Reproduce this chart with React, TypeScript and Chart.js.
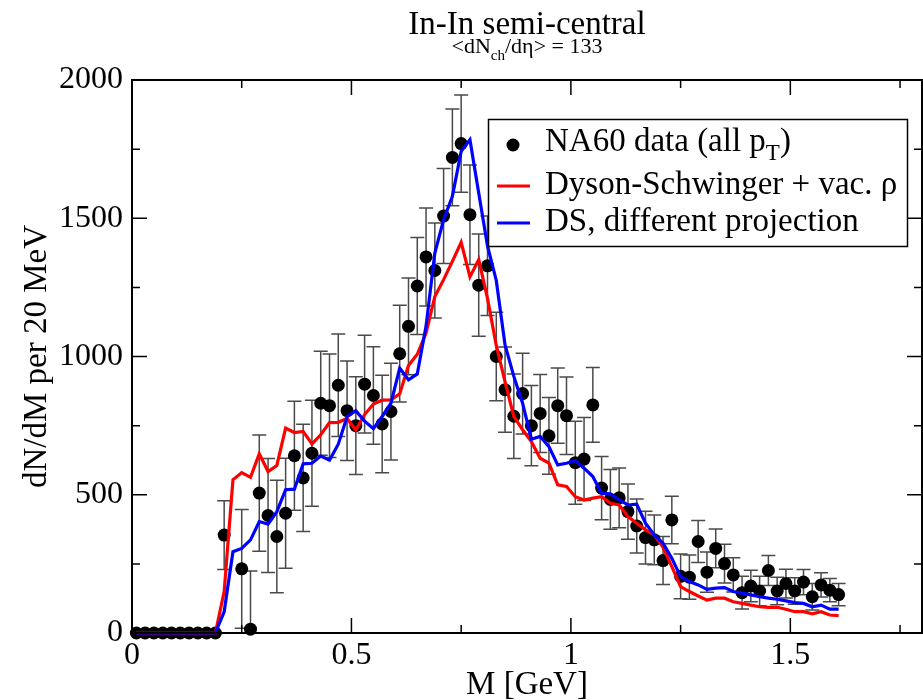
import React, { useEffect, useRef } from "react";
import { Chart, registerables } from "chart.js";

Chart.register(...registerables);

// ---- data ----
const massGeV = [
  0.01, 0.03, 0.05, 0.07, 0.09, 0.11, 0.13, 0.15, 0.17, 0.19,
  0.21, 0.23, 0.25, 0.27, 0.29, 0.31, 0.33, 0.35, 0.37, 0.39,
  0.41, 0.43, 0.45, 0.47, 0.49, 0.51, 0.53, 0.55, 0.57, 0.59,
  0.61, 0.63, 0.65, 0.67, 0.69, 0.71, 0.73, 0.75, 0.77, 0.79,
  0.81, 0.83, 0.85, 0.87, 0.89, 0.91, 0.93, 0.95, 0.97, 0.99,
  1.01, 1.03, 1.05, 1.07, 1.09, 1.11, 1.13, 1.15, 1.17, 1.19,
  1.21, 1.23, 1.25, 1.27, 1.29, 1.31, 1.33, 1.35, 1.37, 1.39,
  1.41, 1.43, 1.45, 1.47, 1.49, 1.51, 1.53, 1.55, 1.57, 1.59,
  1.61,
];

const na60Yield: (number | null)[] = [
  0, 0, 0, 0, 0, 0, 0, 0, 0, 0,
  354, null, 232, 14, 506, 425, 349, 433, 641, 561,
  650, 831, 822, 896, 804, 750, 900, 859, 756, 801,
  1010, 1109, 1255, 1360, 1311, 1508, 1720, 1770, 1513, 1258,
  1328, 1000, 880, 784, 866, 750, 794, 713, 822, 786,
  616, 629, 825, 524, 483, 489, 439, 387, 345, 337,
  262, 409, 205, 202, 331, 220, 306, 251, 210, 146,
  170, 152, 226, 152, 179, 152, 184, 131, 174, 155,
  139,
];

const na60Error = [
  0, 0, 0, 0, 0, 0, 0, 0, 0, 0,
  124, 0, 215, 210, 210, 206, 203, 199, 197, 194,
  192, 188, 187, 185, 180, 177, 177, 176, 176, 175,
  175, 175, 175, 177, 172, 172, 175, 176, 180, 185,
  180, 160, 154, 153, 146, 145, 141, 139, 136, 140,
  150, 150, 135, 114, 108, 108, 100, 98, 95, 90,
  87, 86, 81, 80, 76, 73, 70, 70, 62, 59,
  57, 53, 54, 50, 52, 48, 46, 48, 44, 42,
  40,
];

const dsVacRho = [
  0, 0, 0, 0, 0, 0, 0, 0, 0, 0,
  150, 554, 580, 563, 648, 584, 606, 741, 725, 729,
  684, 717, 761, 762, 776, 734, 790, 828, 842, 843,
  865, 967, 1008, 1085, 1217, 1278, 1344, 1413, 1288, 1350,
  1210, 1040, 908, 783, 735, 692, 632, 614, 536, 530,
  493, 481, 488, 493, 469, 463, 421, 397, 373, 355,
  310, 240, 168, 150, 134, 119, 126, 126, 113, 107,
  101, 95, 93, 93, 86, 77, 77, 69, 77, 65,
  63,
];

const dsProjection = [
  0, 0, 0, 0, 0, 0, 0, 0, 0, 0,
  77, 294, 306, 337, 403, 394, 439, 518, 520, 612,
  614, 640, 625, 683, 782, 804, 766, 739, 783, 831,
  958, 916, 937, 1110, 1374, 1495, 1579, 1742, 1784, 1591,
  1400, 1275, 1042, 928, 831, 701, 711, 674, 608, 614,
  624, 596, 566, 505, 503, 481, 463, 466, 397, 355,
  325, 270, 204, 186, 174, 158, 162, 164, 150, 144,
  138, 131, 126, 122, 116, 110, 107, 95, 101, 86,
  86,
];

const xMajorTicks = [0, 0.5, 1, 1.5];
const xMinorTicks = [0.25, 0.75, 1.25, 1.75];
const yMajorTicks = [0, 500, 1000, 1500, 2000];
const yMinorTicks = [250, 750, 1250, 1750];

const titleText = "In-In semi-central";
const subtitleParts = ["<dN", "ch", "/dη> = 133"];
const xAxisTitle = "M [GeV]";
const yAxisTitle = "dN/dM per 20 MeV";
const legendLabels = ["NA60 data (all p", "T", ")", "Dyson-Schwinger + vac. ρ", "DS, different projection"];

const FONT = '"Liberation Serif", "Times New Roman", serif';

const decorPlugin = {
  id: "graceDecor",
  beforeDatasetsDraw(chart: any) {
    const { ctx, chartArea } = chart;
    const xs = chart.scales.x;
    const ys = chart.scales.y;
    ctx.save();
    ctx.beginPath();
    ctx.rect(chartArea.left, chartArea.top - 5, chartArea.right - chartArea.left, chartArea.bottom - chartArea.top + 5);
    ctx.clip();
    ctx.strokeStyle = "#4a4a4a";
    ctx.lineWidth = 1.5;
    for (let i = 0; i < massGeV.length; i++) {
      const v = na60Yield[i];
      const e = na60Error[i];
      if (v === null || !e) continue;
      const px = xs.getPixelForValue(massGeV[i]);
      const top = ys.getPixelForValue(v + e);
      const bot = ys.getPixelForValue(v - e);
      ctx.beginPath();
      ctx.moveTo(px, top);
      ctx.lineTo(px, bot);
      ctx.moveTo(px - 7, top);
      ctx.lineTo(px + 7, top);
      ctx.moveTo(px - 7, bot);
      ctx.lineTo(px + 7, bot);
      ctx.stroke();
    }
    ctx.restore();
  },
  afterDatasetsDraw(chart: any) {
    const { ctx, chartArea } = chart;
    const xs = chart.scales.x;
    const ys = chart.scales.y;
    const { left, right, top, bottom } = chartArea;
    ctx.save();
    // frame
    ctx.strokeStyle = "#000";
    ctx.lineWidth = 2;
    ctx.strokeRect(left, top, right - left, bottom - top);
    // ticks
    ctx.lineWidth = 1.5;
    const drawX = (vals: number[], len: number) => {
      vals.forEach((v) => {
        const p = xs.getPixelForValue(v);
        ctx.beginPath();
        ctx.moveTo(p, bottom);
        ctx.lineTo(p, bottom - len);
        ctx.moveTo(p, top);
        ctx.lineTo(p, top + len);
        ctx.stroke();
      });
    };
    const drawY = (vals: number[], len: number) => {
      vals.forEach((v) => {
        const p = ys.getPixelForValue(v);
        ctx.beginPath();
        ctx.moveTo(left, p);
        ctx.lineTo(left + len, p);
        ctx.moveTo(right, p);
        ctx.lineTo(right - len, p);
        ctx.stroke();
      });
    };
    drawX(xMajorTicks, 15);
    drawX(xMinorTicks, 8);
    drawY(yMajorTicks, 15);
    drawY(yMinorTicks, 8);

    // titles
    ctx.fillStyle = "#000";
    const cx = (left + right) / 2;
    ctx.textAlign = "center";
    ctx.textBaseline = "alphabetic";
    ctx.font = `33px ${FONT}`;
    ctx.fillText(titleText, cx, 34);

    // subtitle with subscript
    const big = `22px ${FONT}`;
    const small = `15px ${FONT}`;
    ctx.font = big;
    const w0 = ctx.measureText(subtitleParts[0]).width;
    const w2 = ctx.measureText(subtitleParts[2]).width;
    ctx.font = small;
    const w1 = ctx.measureText(subtitleParts[1]).width;
    let sx = cx - (w0 + w1 + w2) / 2;
    ctx.textAlign = "left";
    ctx.font = big;
    ctx.fillText(subtitleParts[0], sx, 53);
    sx += w0;
    ctx.font = small;
    ctx.fillText(subtitleParts[1], sx, 60);
    sx += w1;
    ctx.font = big;
    ctx.fillText(subtitleParts[2], sx, 53);

    // axis titles
    ctx.textAlign = "center";
    ctx.font = `33px ${FONT}`;
    ctx.fillText(xAxisTitle, cx, 694);
    ctx.save();
    ctx.translate(37, (top + bottom) / 2);
    ctx.rotate(-Math.PI / 2);
    ctx.textBaseline = "middle";
    ctx.font = `33px ${FONT}`;
    ctx.fillText(yAxisTitle, 0, 0);
    ctx.restore();

    // legend
    const lx = 488.5, ly = 119.5, lw = 419, lh = 127;
    ctx.fillStyle = "#fff";
    ctx.fillRect(lx, ly, lw, lh);
    ctx.strokeStyle = "#000";
    ctx.lineWidth = 1.5;
    ctx.strokeRect(lx, ly, lw, lh);
    ctx.fillStyle = "#000";
    ctx.beginPath();
    ctx.arc(513, 145, 6.5, 0, Math.PI * 2);
    ctx.fill();
    ctx.lineWidth = 3;
    ctx.strokeStyle = "#ff0000";
    ctx.beginPath();
    ctx.moveTo(497, 186);
    ctx.lineTo(530, 186);
    ctx.stroke();
    ctx.strokeStyle = "#0000ff";
    ctx.beginPath();
    ctx.moveTo(497, 223);
    ctx.lineTo(530, 223);
    ctx.stroke();

    ctx.textAlign = "left";
    ctx.textBaseline = "alphabetic";
    const tx = 545;
    ctx.font = `33px ${FONT}`;
    ctx.fillText(legendLabels[0], tx, 151);
    let ox = tx + ctx.measureText(legendLabels[0]).width;
    ctx.font = `23px ${FONT}`;
    ctx.fillText(legendLabels[1], ox, 160);
    ox += ctx.measureText(legendLabels[1]).width;
    ctx.font = `33px ${FONT}`;
    ctx.fillText(legendLabels[2], ox, 151);
    ctx.fillText(legendLabels[3], tx, 194);
    ctx.fillText(legendLabels[4], tx, 231);
    ctx.restore();
  },
};

export default function App() {
  const canvasRef = useRef<HTMLCanvasElement | null>(null);

  useEffect(() => {
    const canvas = canvasRef.current;
    if (!canvas) return;
    const toPoints = (arr: (number | null)[]) => massGeV.map((m, i) => ({ x: m, y: arr[i] }));
    const chart = new Chart(canvas, {
      type: "line",
      data: {
        datasets: [
          {
            label: "NA60 data (all pT)",
            data: toPoints(na60Yield) as any,
            showLine: false,
            pointRadius: 6.5,
            pointBackgroundColor: "#000",
            pointBorderWidth: 0,
            pointBorderColor: "#000",
            clip: false as any,
            order: 3,
          },
          {
            label: "Dyson-Schwinger + vac. ρ",
            data: toPoints(dsVacRho) as any,
            borderColor: "#ff0000",
            borderWidth: 3.2,
            pointRadius: 0,
            tension: 0,
            fill: false,
            clip: false as any,
            order: 2,
          },
          {
            label: "DS, different projection",
            data: toPoints(dsProjection) as any,
            borderColor: "#0000ff",
            borderWidth: 3.2,
            pointRadius: 0,
            tension: 0,
            fill: false,
            clip: false as any,
            order: 1,
          },
        ],
      },
      options: {
        animation: false,
        responsive: false,
        devicePixelRatio: 1,
        layout: { autoPadding: false, padding: { top: 80, right: 1, left: 0, bottom: 0 } },
        plugins: {
          legend: { display: false },
          tooltip: { enabled: false },
          title: { display: false },
        },
        scales: {
          x: {
            type: "linear",
            min: 0,
            max: 1.8,
            grid: { display: false, drawTicks: false },
            border: { display: false },
            afterBuildTicks: (s: any) => {
              s.ticks = xMajorTicks.map((v) => ({ value: v }));
            },
            afterFit: (s: any) => {
              s.height = 67;
              s.paddingLeft = 0;
              s.paddingRight = 0;
            },
            ticks: {
              color: "#000",
              padding: 3,
              maxRotation: 0,
              autoSkip: false,
              font: { family: FONT, size: 32 },
              callback: (v: any) => String(v),
            },
          },
          y: {
            type: "linear",
            min: 0,
            max: 2000,
            grid: { display: false, drawTicks: false },
            border: { display: false },
            afterBuildTicks: (s: any) => {
              s.ticks = yMajorTicks.map((v) => ({ value: v }));
            },
            afterFit: (s: any) => {
              s.width = 132;
              s.paddingTop = 0;
              s.paddingBottom = 0;
            },
            ticks: {
              color: "#000",
              padding: 9,
              font: { family: FONT, size: 32 },
              callback: (v: any) => String(v),
            },
          },
        },
      },
      plugins: [decorPlugin],
    });
    return () => chart.destroy();
  }, []);

  return (
    <div style={{ position: "absolute", left: 0, top: 0, width: 923, height: 700, background: "#fff" }}>
      <canvas ref={canvasRef} width={923} height={700} style={{ display: "block" }} />
    </div>
  );
}
